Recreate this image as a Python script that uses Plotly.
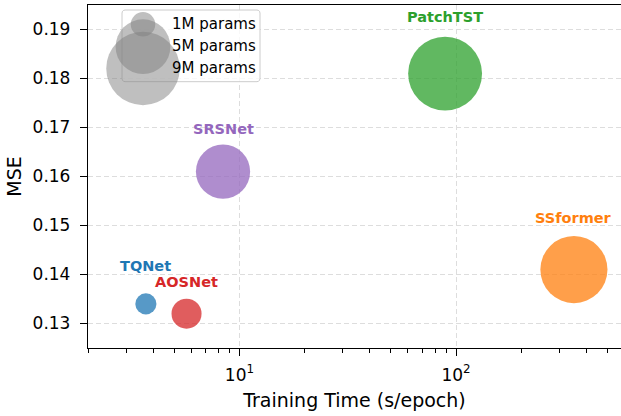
import numpy as np
import plotly.graph_objects as go

# Model benchmark: training cost vs. error, bubble area ~ parameter count
models = ["TQNet", "AOSNet", "SRSNet", "PatchTST", "SSformer"]
train_time = [3.7, 5.7, 8.4, 89, 350]          # s/epoch
mse = [0.134, 0.132, 0.161, 0.181, 0.141]
params_m = [0.74, 1.5, 4.9, 9.1, 7.5]           # millions of parameters
colors = ["#1f77b4", "#d62728", "#9467bd", "#2ca02c", "#ff7f0e"]
label_lift = [38, 32, 43, 57, 52]               # label offset above bubble, px

legend_params = [1, 5, 9]
legend_labels = ["1M params", "5M params", "9M params"]

y_ticks = [0.13, 0.14, 0.15, 0.16, 0.17, 0.18, 0.19]
x_ticks = [10, 100]
x_ticktext = ["10<sup>1</sup>", "10<sup>2</sup>"]

SIZE_K = 24.5


def bubble_diameter(p):
    return SIZE_K * np.sqrt(np.asarray(p, dtype=float))


W, H = 621, 416
ML, MR, MT, MB = 88, 0, 5, 68
PW, PH = W - ML - MR, H - MT - MB

X_RANGE = [np.log10(2), 2.7614]
Y_RANGE = [0.125, 0.195]

FONT = "DejaVu Sans"


def rounded_box(x0, x1, y0, y1, r, n=6):
    """Closed outline of a rounded rectangle in pixel units."""
    xs, ys = [], []
    corners = [(x1 - r, y0 + r, -90, 0), (x1 - r, y1 - r, 0, 90),
               (x0 + r, y1 - r, 90, 180), (x0 + r, y0 + r, 180, 270)]
    for cx, cy, a0, a1 in corners:
        for a in np.linspace(np.radians(a0), np.radians(a1), n):
            xs.append(cx + r * np.cos(a))
            ys.append(cy + r * np.sin(a))
    xs.append(xs[0])
    ys.append(ys[0])
    return xs, ys


fig = go.Figure()

fig.add_trace(go.Scatter(
    x=train_time, y=mse, mode="markers",
    marker=dict(size=bubble_diameter(params_m), sizemode="diameter",
                color=colors, opacity=0.75, line=dict(width=0)),
    hoverinfo="skip", showlegend=False, cliponaxis=False,
))

for name, t, m, c, lift in zip(models, train_time, mse, colors, label_lift):
    fig.add_annotation(
        x=np.log10(t), y=m, xref="x", yref="y", text=f"<b>{name}</b>",
        showarrow=False, yshift=lift, xanchor="center", yanchor="middle",
        font=dict(family=FONT, size=14.5, color=c),
    )

# Size key on a pixel-scaled overlay of the plot area
key_x = 55
key_rows = [19.3, 41.0, 62.5]
key_circle_y = [19.3, 41.7, 63.4]

bx, by = rounded_box(34, 172, 5, 76.7, 3)
fig.add_trace(go.Scatter(
    x=bx, y=by, mode="lines", fill="toself",
    fillcolor="rgba(255,255,255,0.8)", line=dict(color="#cccccc", width=1),
    xaxis="x2", yaxis="y2", hoverinfo="skip", showlegend=False,
))

fig.add_trace(go.Scatter(
    x=[key_x] * len(legend_params), y=key_circle_y, mode="markers",
    marker=dict(size=bubble_diameter(legend_params), sizemode="diameter",
                color="gray", opacity=0.5, line=dict(width=0)),
    xaxis="x2", yaxis="y2", hoverinfo="skip", showlegend=False,
    cliponaxis=False,
))

for txt, yy in zip(legend_labels, key_rows):
    fig.add_annotation(
        x=82, y=yy, xref="x2", yref="y2", text=txt, showarrow=False,
        xanchor="left", yanchor="middle",
        font=dict(family=FONT, size=15, color="black"),
    )

grid = dict(showgrid=True, gridcolor="#dddddd", gridwidth=1, griddash="5px,3px")

fig.update_layout(
    width=W, height=H,
    margin=dict(l=ML, r=MR, t=MT, b=MB),
    paper_bgcolor="white", plot_bgcolor="white",
    font=dict(family=FONT, color="black"),
    xaxis=dict(
        type="log", range=X_RANGE,
        tickmode="array", tickvals=x_ticks, ticktext=x_ticktext,
        ticks="outside", ticklen=7, tickwidth=1.2, tickcolor="black",
        tickfont=dict(size=17), ticklabelstandoff=4,
        minor=dict(ticks="outside", ticklen=4, tickwidth=1, tickcolor="black",
                   tickvals=[k * 10 ** e for e in (0, 1, 2) for k in range(2, 10)],
                   showgrid=False),
        showline=True, linecolor="black", linewidth=1.3, mirror=True,
        zeroline=False,
        title=dict(text="Training Time (s/epoch)", font=dict(size=19), standoff=10),
        **grid,
    ),
    yaxis=dict(
        range=Y_RANGE,
        tickmode="array", tickvals=y_ticks, tickformat=".2f",
        ticks="outside", ticklen=7, tickwidth=1.2, tickcolor="black",
        tickfont=dict(size=17), ticklabelstandoff=6,
        showline=True, linecolor="black", linewidth=1.3, mirror=False,
        zeroline=False,
        title=dict(text="MSE", font=dict(size=19), standoff=5),
        **grid,
    ),
    xaxis2=dict(overlaying="x", range=[0, PW], visible=False, fixedrange=True),
    yaxis2=dict(overlaying="y", range=[PH, 0], visible=False, fixedrange=True),
    showlegend=False,
)

fig.write_html("out.html")
